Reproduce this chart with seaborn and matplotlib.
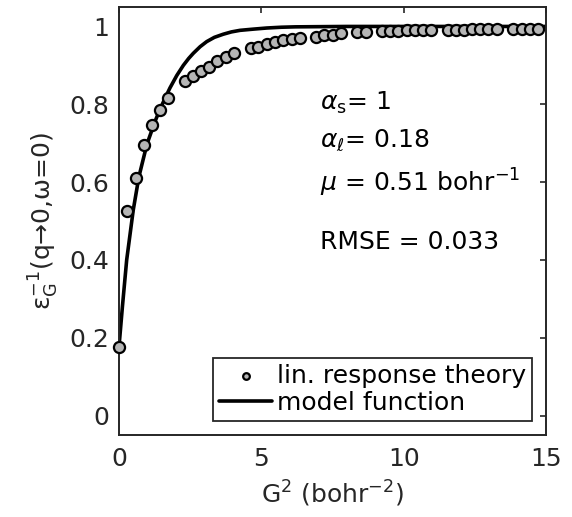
import matplotlib
matplotlib.use("Agg")
import matplotlib.pyplot as plt
import seaborn as sns
import pandas as pd

# ---- data ----
g2_points = [0.00, 0.29, 0.58, 0.87, 1.15, 1.44, 1.73, 2.31, 2.60, 2.89, 3.17,
             3.46, 3.75, 4.04, 4.62, 4.90, 5.19, 5.48, 5.77, 6.06, 6.35, 6.92,
             7.21, 7.50, 7.79, 8.37, 8.66, 9.23, 9.52, 9.81, 10.10, 10.39,
             10.67, 10.96, 11.54, 11.83, 12.12, 12.41, 12.69, 12.98, 13.27,
             13.85, 14.14, 14.43, 14.71]
eps_points = [0.177, 0.526, 0.610, 0.695, 0.746, 0.785, 0.815, 0.859, 0.872,
              0.885, 0.897, 0.910, 0.921, 0.931, 0.944, 0.947, 0.954, 0.959,
              0.964, 0.967, 0.970, 0.974, 0.977, 0.979, 0.982, 0.985, 0.986,
              0.988, 0.989, 0.989, 0.990, 0.990, 0.991, 0.991, 0.992, 0.992,
              0.992, 0.993, 0.993, 0.993, 0.993, 0.994, 0.994, 0.994, 0.994]

g2_model = [0.00, 0.12, 0.27, 0.50, 0.70, 0.98, 1.26, 1.44, 1.62, 1.79, 2.03,
            2.26, 2.45, 2.61, 2.85, 3.08, 3.35, 3.66, 3.95, 4.25, 4.70, 5.19,
            5.70, 6.20, 8.00, 10.00, 12.00, 15.00]
eps_model = [0.177, 0.280, 0.400, 0.528, 0.614, 0.697, 0.755, 0.787, 0.816,
             0.842, 0.874, 0.900, 0.918, 0.931, 0.948, 0.961, 0.972, 0.980,
             0.986, 0.990, 0.993, 0.996, 0.998, 0.999, 1.000, 1.000, 1.000,
             1.000]

x_ticks = [0, 5, 10, 15]
x_tick_labels = ["0", "5", "10", "15"]
y_ticks = [0, 0.2, 0.4, 0.6, 0.8, 1.0]
y_tick_labels = ["0", "0.2", "0.4", "0.6", "0.8", "1"]

annotations = [r"$\alpha_\mathrm{s}$= 1",
               r"$\alpha_\ell$= 0.18",
               r"$\mu$ = 0.51 bohr$^{-1}$",
               "RMSE = 0.033"]
annotation_y = [0.803, 0.708, 0.597, 0.446]

df_pts = pd.DataFrame({"G2": g2_points, "eps": eps_points})
df_mod = pd.DataFrame({"G2": g2_model, "eps": eps_model})

# ---- style ----
sns.set_theme(style="white")
plt.rcParams["font.family"] = ["DejaVu Sans"]
plt.rcParams["mathtext.fontset"] = "dejavusans"
dark = "#262626"
fs = 18

fig = plt.figure(figsize=(5.72, 5.17), dpi=100)
ax = fig.add_axes([119 / 572, 1 - 435 / 517, (546 - 119) / 572, (435 - 7) / 517])

sns.lineplot(data=df_mod, x="G2", y="eps", ax=ax, color="black", lw=2.6,
             zorder=2, label="model function", legend=False)
sns.scatterplot(data=df_pts, x="G2", y="eps", ax=ax, s=64, color="#b5b5b5",
                edgecolor="black", linewidth=1.6, zorder=3, clip_on=False,
                label="lin. response theory", legend=False)

ax.set_xlim(0, 15)
ax.set_ylim(-0.05, 1.05)
ax.set_xticks(x_ticks)
ax.set_xticklabels(x_tick_labels)
ax.set_yticks(y_ticks)
ax.set_yticklabels(y_tick_labels)

for s in ax.spines.values():
    s.set_visible(True)
    s.set_color(dark)
    s.set_linewidth(1.4)

ax.tick_params(axis="both", which="major", direction="in", length=4,
               width=1.2, color=dark, labelcolor=dark, labelsize=fs,
               top=True, right=True)
ax.tick_params(axis="x", pad=9)
ax.tick_params(axis="y", pad=7)

ax.set_xlabel(r"G$^2$ (bohr$^{-2}$)", fontsize=fs, color=dark, labelpad=5)
ax.set_ylabel(r"$\mathregular{\varepsilon^{-1}_G}$(q→0,ω=0)", fontsize=fs,
              color=dark, labelpad=6)

for txt, yy in zip(annotations, annotation_y):
    ax.text(7.06, yy, txt, fontsize=fs, color="black", va="center",
            ha="left")

handles, labels = ax.get_legend_handles_labels()
order = [labels.index("lin. response theory"), labels.index("model function")]
leg = ax.legend([handles[i] for i in order], [labels[i] for i in order],
                loc="lower right", fontsize=fs, frameon=True, fancybox=False,
                edgecolor=dark, framealpha=1, borderaxespad=0.55,
                borderpad=0.25, labelspacing=0.12, handlelength=2.1,
                handletextpad=0.2, markerscale=0.6)
leg.get_frame().set_linewidth(1.3)
for t in leg.get_texts():
    t.set_color("black")

fig.savefig("out.png", dpi=100)
